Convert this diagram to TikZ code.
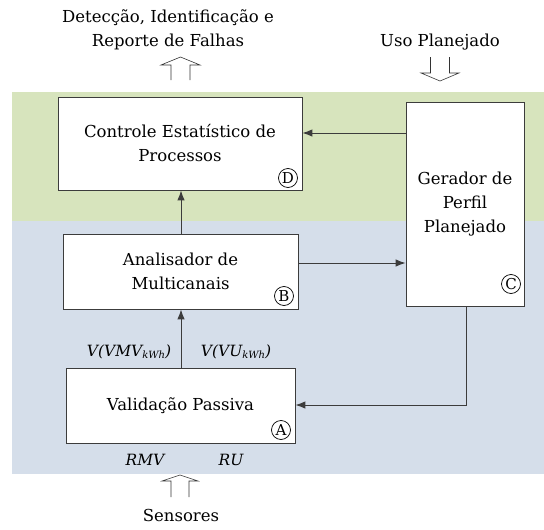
\documentclass[tikz,border=0pt]{standalone}
\usepackage{fontspec}
\setmainfont{DejaVu Serif}
\usetikzlibrary{arrows.meta}
\definecolor{bandgreen}{RGB}{215,228,189}
\definecolor{bandblue}{RGB}{213,222,234}
\definecolor{edge}{RGB}{60,60,60}
\begin{document}
\begin{tikzpicture}[x=1pt,y=-1pt,
  every node/.style={font=\fontsize{16.5}{24}\selectfont},
  blk/.style={draw=edge,line width=0.8pt,fill=white,align=center,inner sep=0pt},
  tag/.style={circle,draw=black,line width=0.7pt,inner sep=0pt,minimum size=19pt,font=\fontsize{15}{15}\selectfont},
  conn/.style={draw=edge,line width=1pt,-{Latex[length=10pt,width=7.5pt]}},
  hollow/.style={draw=black!80,line width=0.6pt},
  lbl/.style={font=\fontsize{15.5}{15.5}\selectfont\itshape}]
\useasboundingbox (0,0) rectangle (544,530);
\fill[bandgreen] (12,92) rectangle (544,221);
\fill[bandblue] (12,221) rectangle (544,474);
% boxes
\node[blk,minimum width=244pt,minimum height=93pt] (D) at (180,143.5) {Controle Estatístico de\\Processos};
\node[blk,minimum width=235pt,minimum height=75pt] (B) at (180.5,271.5) {Analisador de\\Multicanais};
\node[blk,minimum width=118pt,minimum height=204pt] (C) at (465,204) {Gerador de\\Perfil\\Planejado};
\node[blk,minimum width=229pt,minimum height=75pt] (A) at (180.5,405.5) {Validação Passiva};
% tags
\node[tag] (tD) at (288,178) {D};
\node[tag] (tB) at (284,296) {B};
\node[tag] (tC) at (511,284) {C};
\node[tag] (tA) at (281,430) {A};
% connectors
\coordinate (cd) at (C.west |- 0,133);
\draw[conn] (cd) -- (cd -| D.east);
\coordinate (bc) at (B.east |- 0,263);
\draw[conn] (bc) -- (bc -| C.west);
\coordinate (bd) at (181,0);
\draw[conn] (bd |- B.north) -- (bd |- D.south);
\draw[conn] (bd |- A.north) -- (bd |- B.south);
\coordinate (ca) at (466,405);
\draw[conn] (ca |- C.south) -- (ca) -- (ca -| A.east);
% labels
\node[lbl] (v1) at (129,352) {V(VMV\raisebox{-0.25ex}{\fontsize{10}{10}\selectfont kWh})};
\node[lbl] (v2) at (236,352) {V(VU\raisebox{-0.25ex}{\fontsize{10}{10}\selectfont kWh})};
\node[lbl] (rmv) at (145,460) {RMV};
\node[lbl] (ru) at (231,460) {RU};
\node (sens) at (181,515) {Sensores};
\node[align=center] (det) at (168,30) {Detecção, Identificação e\\Reporte de Falhas};
\node (uso) at (440,42) {Uso Planejado};
% hollow arrows
\draw[hollow] (171,80) -- (171,65) -- (161,65) -- (180.5,57) -- (200,65) -- (190,65) -- (190,80);
\draw[hollow] (171,497) -- (171,481) -- (162,481) -- (180,475) -- (198,481) -- (189,481) -- (189,497);
\draw[hollow] (430.5,57) -- (430.5,73) -- (421,73) -- (440,81) -- (459,73) -- (449.5,73) -- (449.5,57);
\end{tikzpicture}
\end{document}
